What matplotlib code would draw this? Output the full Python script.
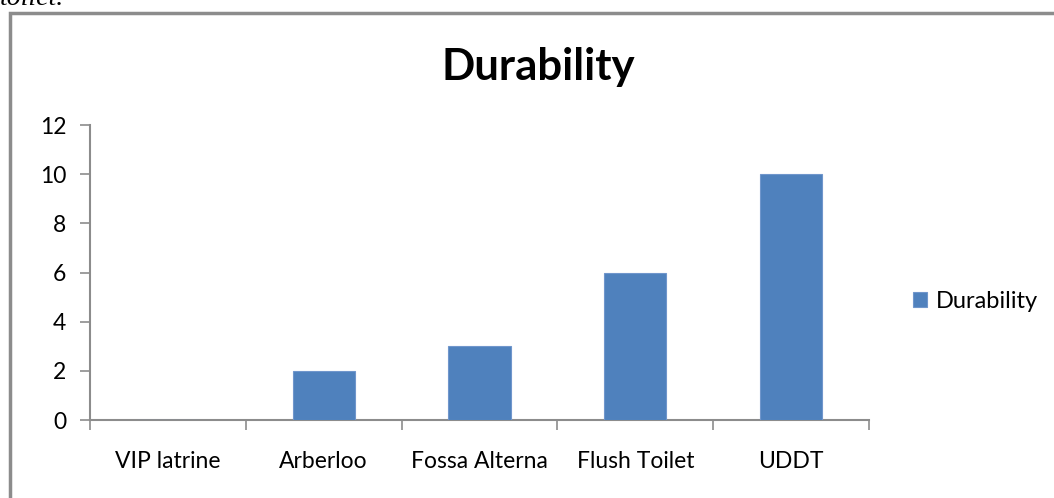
import matplotlib.pyplot as plt
from matplotlib.patches import Rectangle

categories = ['VIP latrine', 'Arberloo', 'Fossa Alterna', 'Flush Toilet', 'UDDT']
durability = [0, 2, 3, 6, 10]
y_ticks = [0, 2, 4, 6, 8, 10, 12]

W, H = 1054, 498
plt.rcParams['font.family'] = ['Lato', 'DejaVu Sans']

fig = plt.figure(figsize=(W / 100, H / 100), dpi=100)

# chart frame, running off the right and bottom edges
fig.patches.append(Rectangle((10 / W, -0.1), 1.2, 1 - 13 / H + 0.1,
                             transform=fig.transFigure, fill=False,
                             edgecolor='#8c8c8c', linewidth=2.5))

# caption line above the frame, clipped by the top edge
fig.text(0.0, 1 - 5 / H, 'toilet.', family='Liberation Serif', style='italic',
         fontsize=20, va='baseline', ha='left')

ax = fig.add_axes([90 / W, 1 - 420 / H, (869 - 90) / W, (420 - 125) / H])
x = range(len(categories))
ax.bar(x, durability, width=0.4, color='#4f81bd', edgecolor='#7096cc',
       linewidth=0.8, label='Durability', zorder=3)

ax.set_xlim(-0.5, len(categories) - 0.5)
ax.set_ylim(0, 12)
ax.set_yticks(y_ticks)
ax.set_xticks([i - 0.5 for i in range(len(categories) + 1)], minor=False)
ax.set_xticklabels([])
ax.set_xticks(list(x), minor=True)
ax.set_xticklabels(categories, minor=True, fontsize=16.5)
ax.tick_params(axis='x', which='major', length=7, color='#8c8c8c', width=1.2)
ax.tick_params(axis='x', which='minor', length=0, pad=22)
ax.tick_params(axis='y', length=7, color='#8c8c8c', width=1.2, labelsize=16.5, pad=10)

for side in ('top', 'right'):
    ax.spines[side].set_visible(False)
for side in ('left', 'bottom'):
    ax.spines[side].set_color('#8c8c8c')
    ax.spines[side].set_linewidth(1.5)

fig.text(538 / W, 1 - 67 / H, 'Durability', fontsize=31.5, fontweight='bold',
         ha='center', va='center')

ax.legend(loc='center left', bbox_to_anchor=(892 / W, 1 - 301 / H),
          bbox_transform=fig.transFigure, frameon=False, fontsize=17,
          handlelength=0.6, handleheight=0.6, handletextpad=0.35)

fig.savefig('out.png', dpi=100)
